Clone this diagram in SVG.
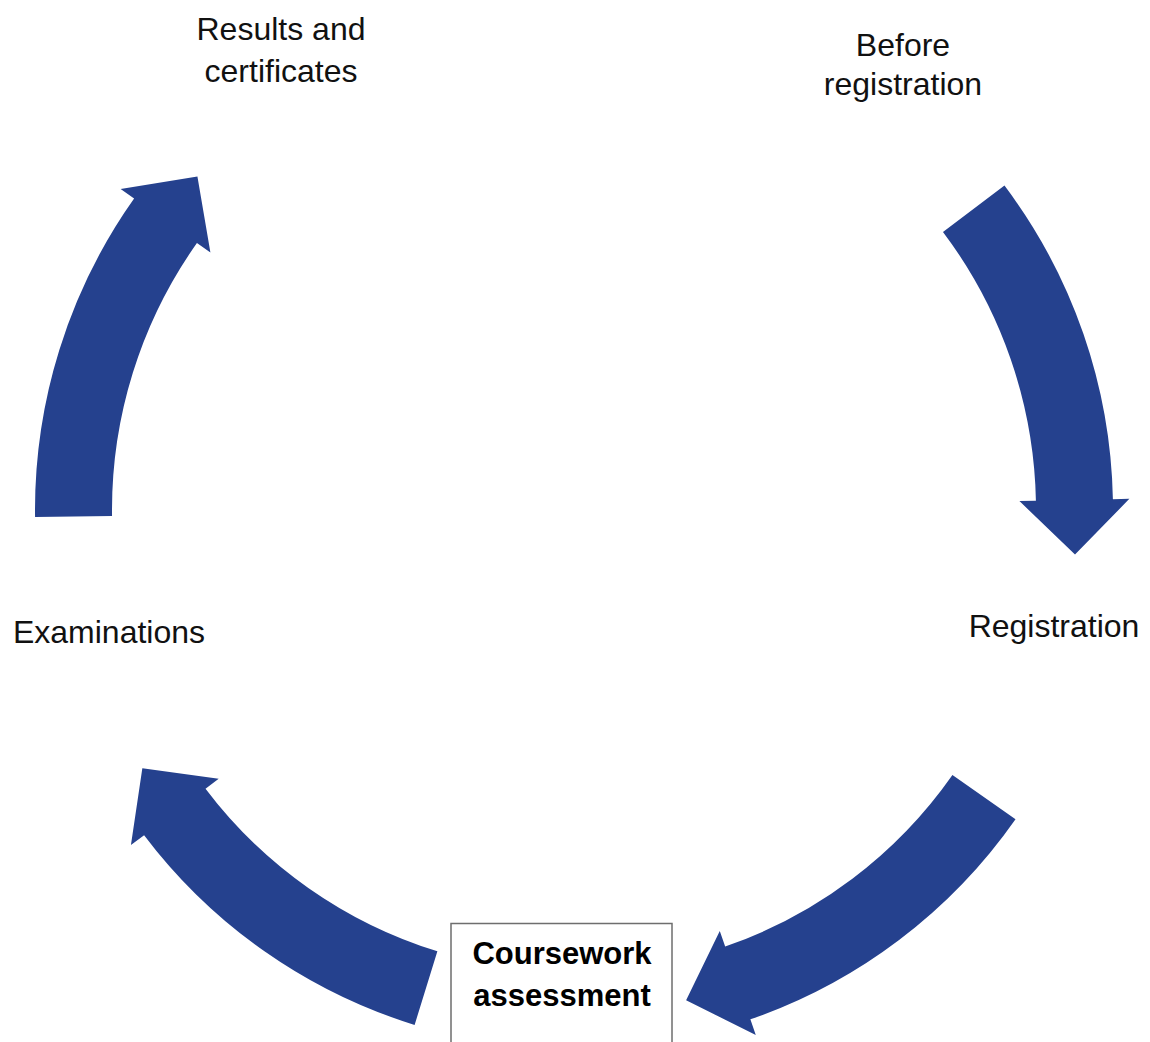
<svg xmlns="http://www.w3.org/2000/svg" width="1150" height="1042" viewBox="0 0 1150 1042">
<style>
.arr{fill:#25418e;stroke:none}
.lbl{font-family:"Liberation Sans",Arial,sans-serif;font-size:32px;fill:#111;text-anchor:middle}
.bold{font-family:"Liberation Sans",Arial,sans-serif;font-size:31px;font-weight:bold;fill:#000;text-anchor:middle}
.box{fill:#fff;stroke:#6e6e6e;stroke-width:1.5}
</style>
<rect width="1150" height="1042" fill="#fff"/>
<g id="connectors">
<path class="arr" d="M942.97,231.96 L1004.47,185.62 A539,539 0 0 1 1112.89,499.18 L1129.39,498.85 L1075.0,554.45 L1019.41,501.06 L1035.91,500.73 A462,462 0 0 0 942.97,231.96 Z"/>
<path class="arr" d="M952.45,774.99 L1015.52,819.16 A539,539 0 0 1 750.37,1019.33 L755.77,1034.92 L686.11,1000.31 L719.78,930.98 L725.18,946.57 A462,462 0 0 0 952.45,774.99 Z"/>
<path class="arr" d="M437.38,951.34 L414.61,1024.90 A539,539 0 0 1 144.10,835.13 L130.94,845.08 L142.34,768.14 L218.68,778.73 L205.52,788.68 A462,462 0 0 0 437.38,951.34 Z"/>
<path class="arr" d="M112.04,516.05 L35.05,517.06 A539,539 0 0 1 134.10,198.53 L120.63,189.00 L197.42,176.59 L210.41,252.56 L196.94,243.03 A462,462 0 0 0 112.04,516.05 Z"/>
</g>
<g id="node-results">
<text class="lbl" x="281" y="40">Results and</text>
<text class="lbl" x="281" y="82">certificates</text>
</g>
<g id="node-before">
<text class="lbl" x="903" y="56">Before</text>
<text class="lbl" x="903" y="95">registration</text>
</g>
<g id="node-registration">
<text class="lbl" x="1054" y="637">Registration</text>
</g>
<g id="node-examinations">
<text class="lbl" x="109" y="643">Examinations</text>
</g>
<g id="node-coursework">
<rect class="box" x="451" y="923.5" width="221" height="130"/>
<text class="bold" x="562" y="964">Coursework</text>
<text class="bold" x="562" y="1006">assessment</text>
</g>
</svg>
